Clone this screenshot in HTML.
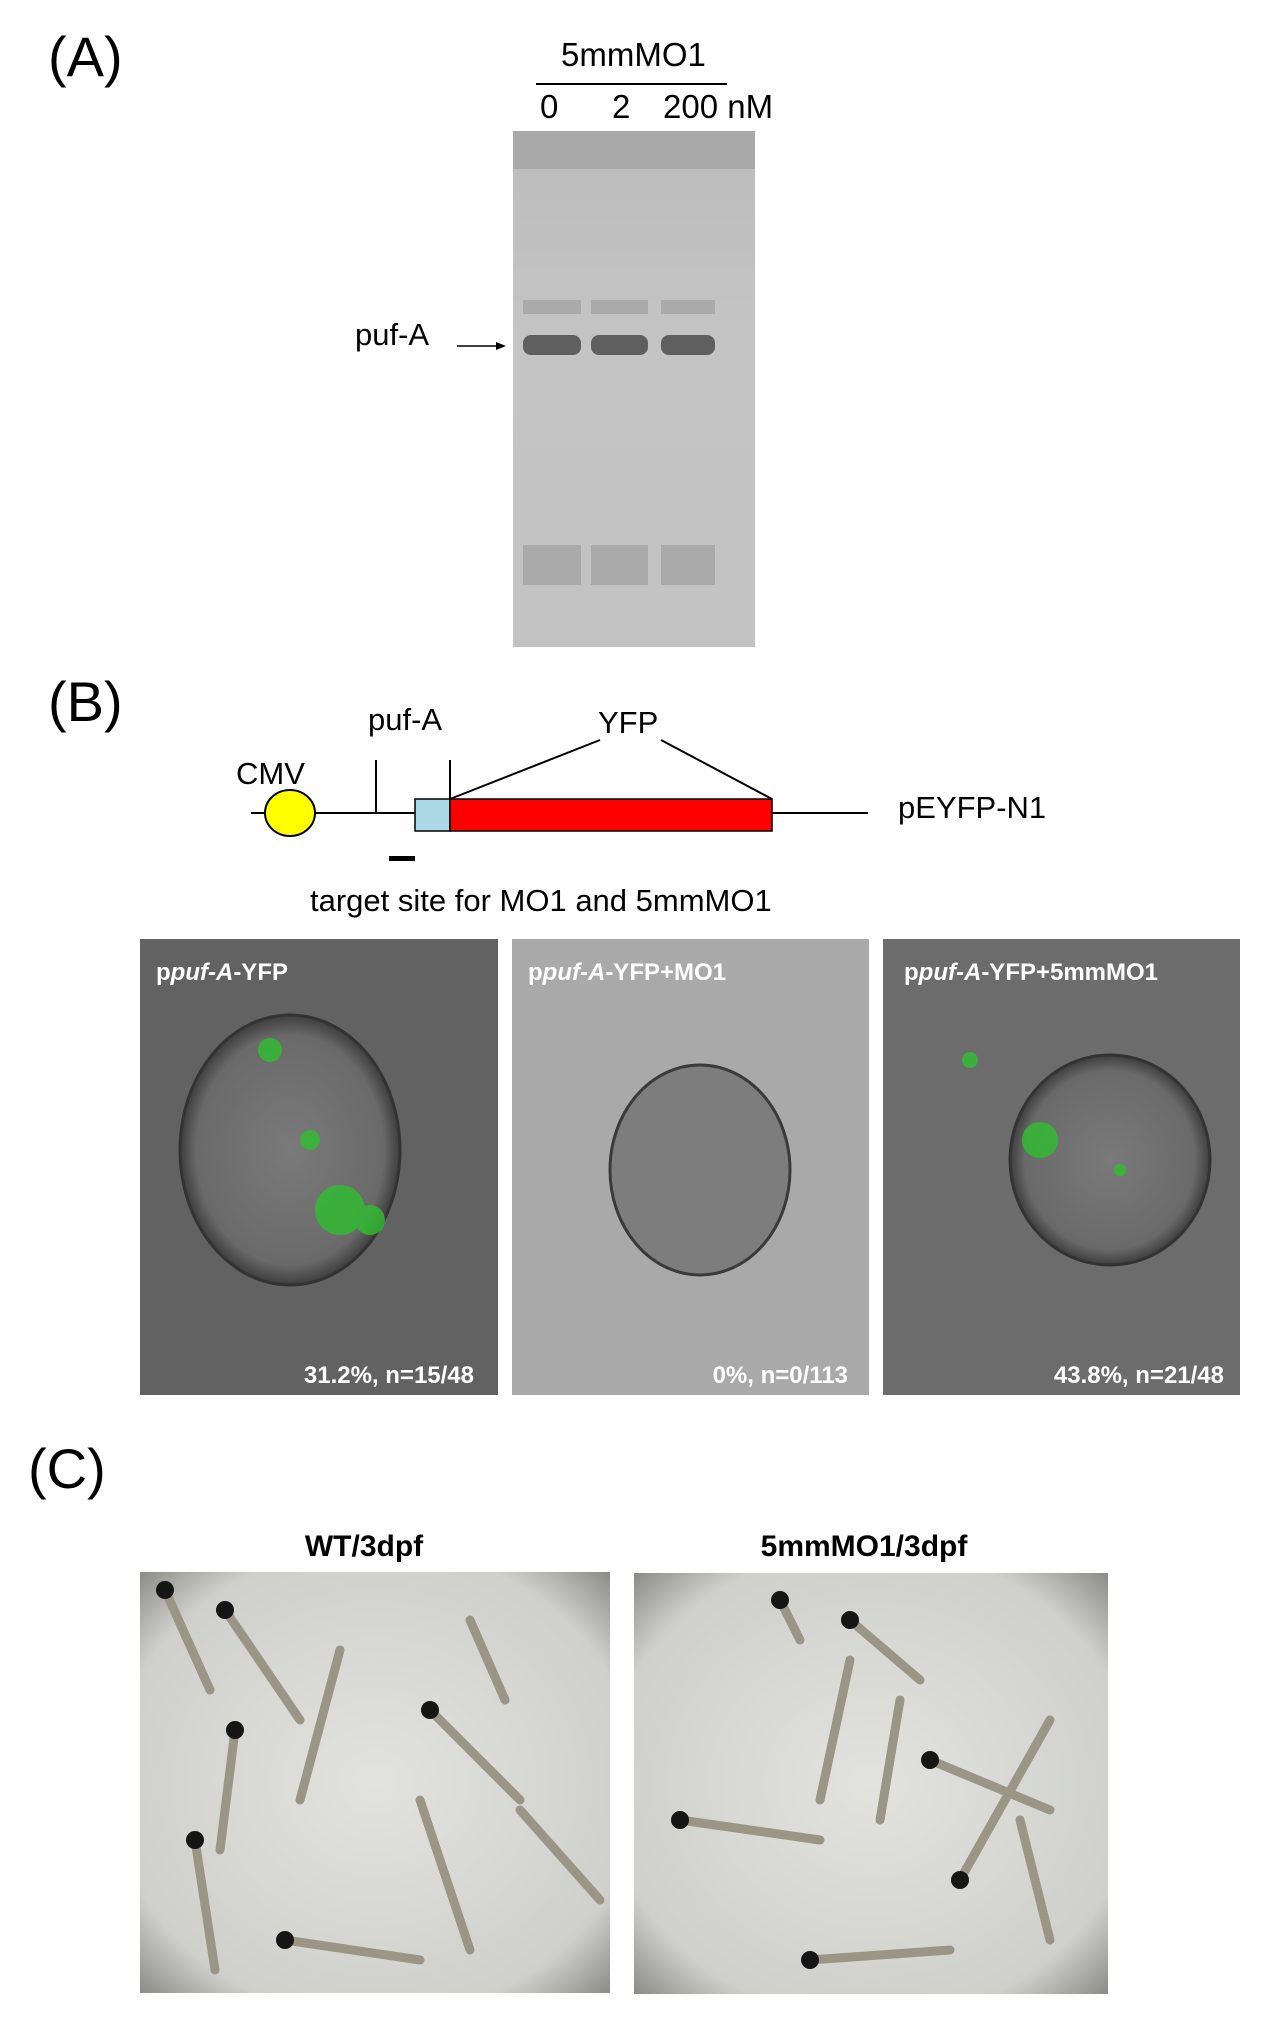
<!DOCTYPE html>
<html><head><meta charset="utf-8"><style>
body{margin:0;background:#fff;width:1276px;height:2033px;position:relative;overflow:hidden;font-family:"Liberation Sans",Arial,sans-serif;color:#000}
.a{position:absolute;white-space:nowrap}
</style></head><body>
<svg width="1276" height="2033" style="position:absolute;left:0;top:0" xmlns="http://www.w3.org/2000/svg">
<defs>
<linearGradient id="gel" x1="0" y1="0" x2="0" y2="1">
<stop offset="0" stop-color="#bcbcbc"/><stop offset="0.4" stop-color="#c4c4c4"/><stop offset="1" stop-color="#c2c2c2"/></linearGradient>
<radialGradient id="emb" cx="0.5" cy="0.5" r="0.5"><stop offset="0" stop-color="#7a7a7a"/><stop offset="0.85" stop-color="#6a6a6a"/><stop offset="1" stop-color="#3e3e3e"/></radialGradient>
<radialGradient id="photo" cx="0.5" cy="0.5" r="0.7"><stop offset="0" stop-color="#e2e3df"/><stop offset="0.8" stop-color="#cfd0cc"/><stop offset="1" stop-color="#8e8f8b"/></radialGradient>
</defs>
<!-- (A) -->
<text x="48" y="76" font-size="56" font-family="Liberation Sans">(A)</text>
<text x="561" y="66" font-size="33" font-family="Liberation Sans">5mmMO1</text>
<line x1="536" y1="84" x2="727" y2="84" stroke="#000" stroke-width="2"/>
<text x="540" y="118" font-size="33" font-family="Liberation Sans">0</text>
<text x="612" y="118" font-size="33" font-family="Liberation Sans">2</text>
<text x="663" y="118" font-size="33" font-family="Liberation Sans">200 nM</text>
<rect x="513" y="131" width="242" height="516" fill="url(#gel)"/>
<rect x="513" y="131" width="242" height="38" fill="#a9a9a9"/>
<g fill="#555" opacity="0.9">
<rect x="523" y="335" width="58" height="20" rx="8"/>
<rect x="591" y="335" width="57" height="20" rx="8"/>
<rect x="661" y="335" width="54" height="20" rx="8"/>
</g>
<g fill="#9a9a9a" opacity="0.6">
<rect x="523" y="300" width="58" height="14"/><rect x="591" y="300" width="57" height="14"/><rect x="661" y="300" width="54" height="14"/>
<rect x="523" y="545" width="58" height="40"/><rect x="591" y="545" width="57" height="40"/><rect x="661" y="545" width="54" height="40"/>
</g>
<text x="355" y="345" font-size="31" font-family="Liberation Sans">puf-A</text>
<line x1="457" y1="346" x2="500" y2="346" stroke="#000" stroke-width="1.5"/>
<polygon points="506,346 496,342 496,350" fill="#000"/>
<!-- (B) -->
<text x="48" y="721" font-size="56" font-family="Liberation Sans">(B)</text>
<line x1="251" y1="813" x2="868" y2="813" stroke="#000" stroke-width="2"/>
<ellipse cx="290" cy="813" rx="25" ry="23" fill="#ffff00" stroke="#000" stroke-width="2"/>
<line x1="376" y1="760" x2="376" y2="813" stroke="#000" stroke-width="2"/>
<line x1="450" y1="760" x2="450" y2="800" stroke="#000" stroke-width="2"/>
<rect x="415" y="799" width="35" height="32" fill="#add8e6" stroke="#000" stroke-width="1.5"/>
<rect x="450" y="799" width="322" height="32" fill="#ff0000" stroke="#000" stroke-width="1.5"/>
<line x1="450" y1="799" x2="600" y2="740" stroke="#000" stroke-width="2"/>
<line x1="661" y1="740" x2="772" y2="799" stroke="#000" stroke-width="2"/>
<text x="598" y="733" font-size="31" font-family="Liberation Sans">YFP</text>
<text x="368" y="730" font-size="31" font-family="Liberation Sans">puf-A</text>
<text x="236" y="784" font-size="31" font-family="Liberation Sans">CMV</text>
<text x="898" y="818" font-size="31" font-family="Liberation Sans">pEYFP-N1</text>
<rect x="389" y="856" width="26" height="5" fill="#000"/>
<text x="310" y="911" font-size="31" font-family="Liberation Sans">target site for MO1 and 5mmMO1</text>
<!-- panels -->
<rect x="140" y="939" width="358" height="456" fill="#626262"/>
<ellipse cx="290" cy="1150" rx="110" ry="135" fill="url(#emb)" stroke="#333" stroke-width="3"/>
<g fill="#2fbf2f" opacity="0.8"><circle cx="340" cy="1210" r="25"/><circle cx="270" cy="1050" r="12"/><circle cx="310" cy="1140" r="10"/><circle cx="370" cy="1220" r="15"/></g>
<rect x="512" y="939" width="357" height="456" fill="#a9a9a9"/>
<ellipse cx="700" cy="1170" rx="90" ry="105" fill="#7d7d7d" stroke="#3a3a3a" stroke-width="3"/>
<rect x="883" y="939" width="357" height="456" fill="#6c6c6c"/>
<ellipse cx="1110" cy="1160" rx="100" ry="105" fill="url(#emb)" stroke="#333" stroke-width="3"/>
<g fill="#2fbf2f" opacity="0.8"><circle cx="1040" cy="1140" r="18"/><circle cx="970" cy="1060" r="8"/><circle cx="1120" cy="1170" r="6"/></g>
<g font-family="Liberation Sans" font-weight="bold" font-size="24" fill="#fff">
<text x="156" y="980">p<tspan font-style="italic">puf-A</tspan>-YFP</text>
<text x="528" y="980">p<tspan font-style="italic">puf-A</tspan>-YFP+MO1</text>
<text x="904" y="980">p<tspan font-style="italic">puf-A</tspan>-YFP+5mmMO1</text>
<text x="474" y="1383" text-anchor="end">31.2%, n=15/48</text>
<text x="848" y="1383" text-anchor="end">0%, n=0/113</text>
<text x="1224" y="1383" text-anchor="end">43.8%, n=21/48</text>
</g>
<!-- (C) -->
<text x="28" y="1488" font-size="56" font-family="Liberation Sans">(C)</text>
<text x="364" y="1556" font-size="30" font-weight="bold" text-anchor="middle" font-family="Liberation Sans">WT/3dpf</text>
<text x="864" y="1556" font-size="30" font-weight="bold" text-anchor="middle" font-family="Liberation Sans">5mmMO1/3dpf</text>
<rect x="140" y="1572" width="470" height="421" fill="url(#photo)"/>
<rect x="634" y="1573" width="474" height="421" fill="url(#photo)"/>
<g stroke="#9a9585" stroke-width="9" stroke-linecap="round" fill="none">
<line x1="165" y1="1590" x2="210" y2="1690"/><line x1="225" y1="1610" x2="300" y2="1720"/>
<line x1="235" y1="1730" x2="220" y2="1850"/><line x1="300" y1="1800" x2="340" y2="1650"/>
<line x1="430" y1="1710" x2="520" y2="1800"/><line x1="470" y1="1620" x2="505" y2="1700"/>
<line x1="285" y1="1940" x2="420" y2="1960"/><line x1="195" y1="1840" x2="215" y2="1970"/>
<line x1="420" y1="1800" x2="470" y2="1950"/><line x1="520" y1="1810" x2="600" y2="1900"/>
<line x1="780" y1="1600" x2="800" y2="1640"/><line x1="850" y1="1620" x2="920" y2="1680"/>
<line x1="850" y1="1660" x2="820" y2="1800"/><line x1="900" y1="1700" x2="880" y2="1820"/>
<line x1="930" y1="1760" x2="1050" y2="1810"/><line x1="680" y1="1820" x2="820" y2="1840"/>
<line x1="960" y1="1880" x2="1050" y2="1720"/><line x1="1020" y1="1820" x2="1050" y2="1940"/>
<line x1="810" y1="1960" x2="950" y2="1950"/>
</g>
<g fill="#151515">
<circle cx="165" cy="1590" r="9"/><circle cx="225" cy="1610" r="9"/><circle cx="235" cy="1730" r="9"/>
<circle cx="430" cy="1710" r="9"/><circle cx="285" cy="1940" r="9"/><circle cx="195" cy="1840" r="9"/>
<circle cx="780" cy="1600" r="9"/><circle cx="850" cy="1620" r="9"/><circle cx="930" cy="1760" r="9"/>
<circle cx="680" cy="1820" r="9"/><circle cx="960" cy="1880" r="9"/><circle cx="810" cy="1960" r="9"/>
</g>
</svg>
</body></html>
